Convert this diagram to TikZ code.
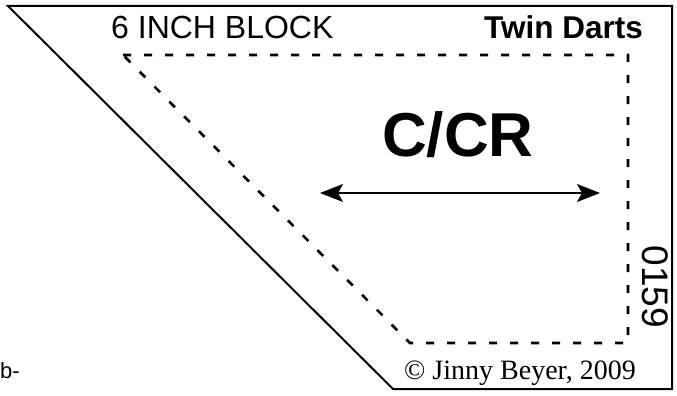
\documentclass[tikz,border=0pt]{standalone}
\usepackage{fontspec}
\setmainfont{Liberation Sans}
\newfontfamily\seriffont{Liberation Serif}
\usetikzlibrary{arrows.meta}
\begin{document}
\begin{tikzpicture}[x=1pt,y=-1pt,
  outline/.style={line width=2pt,line join=miter},
  seam/.style={line width=2.6pt,dash pattern=on 8pt off 13pt},
  txt/.style={inner sep=0pt,anchor=base west},
  dirarrow/.style={line width=1.3pt,{Stealth[length=23pt,width=18pt,inset=5pt]}-{Stealth[length=23pt,width=18pt,inset=5pt]}}]
\useasboundingbox (0,0) rectangle (677,396);
% outer shape
\coordinate (o1) at (8,6);
\coordinate (o2) at (672,6);
\coordinate (o3) at (672,389);
\coordinate (o4) at (393,389);
\draw[outline] (o1) -- (o2) -- (o3) -- (o4) -- cycle;
% inner dashed shape
\coordinate (i1) at (123,55);
\coordinate (i2) at (628,55);
\coordinate (i3) at (628,343);
\coordinate (i4) at (410,343);
\draw[seam] (i1) -- (i2) -- (i3) -- (i4) -- cycle;
% texts
\node[txt,font=\fontsize{32}{34}\selectfont] (blk) at (111,39) {6 INCH BLOCK};
\node[txt,font=\fontsize{31.5}{34}\selectfont\bfseries] (name) at (484,39) {Twin Darts};
\node[txt,font=\fontsize{62}{66}\selectfont\bfseries] (cut) at (382,156) {C/CR};
\node[inner sep=0pt,rotate=-90,font=\fontsize{37}{39}\selectfont] (num) at (655,287) {0159};
\node[txt,font=\seriffont\fontsize{28}{30}\selectfont] (copy) at (404,379) {\textcopyright{} Jinny Beyer, 2009};
\node[inner sep=0pt,anchor=base east,font=\fontsize{22}{24}\selectfont] (frag) at (20,378) {b-};
% arrow
\coordinate (a1) at (320,193);
\coordinate (a2) at (600,193);
\draw[dirarrow] (a1) -- (a2);
\end{tikzpicture}
\end{document}
